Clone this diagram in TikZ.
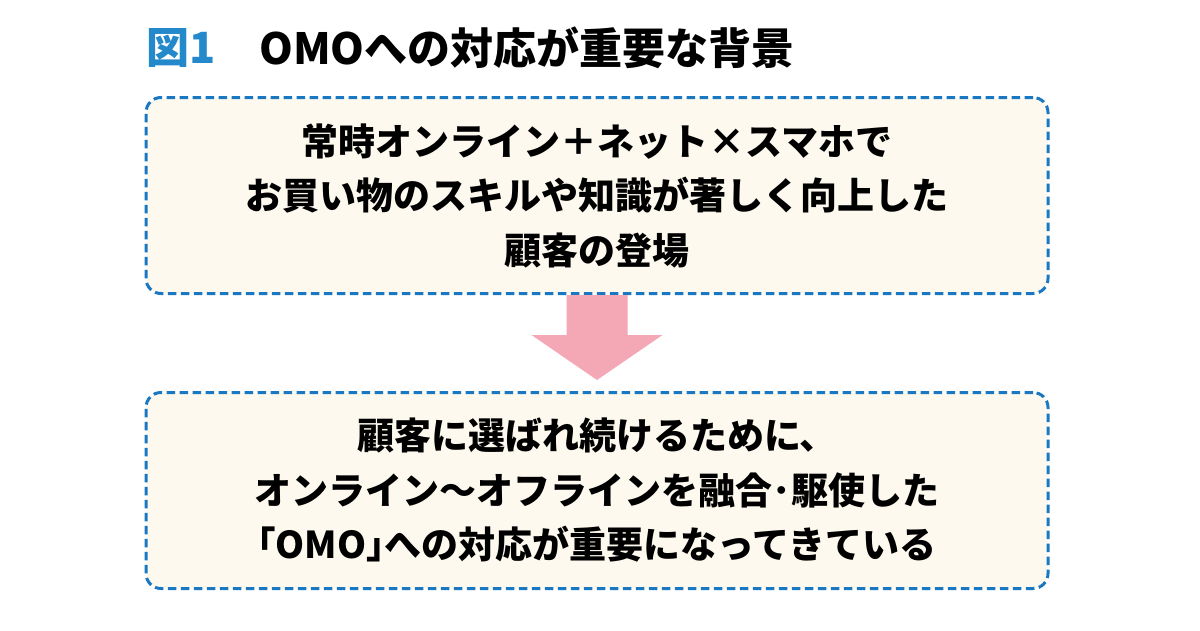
\documentclass[tikz,border=0pt]{standalone}
\usepackage{fontspec}
\setmainfont{Noto Sans CJK JP}
\usetikzlibrary{positioning, calc}
\definecolor{boxblue}{HTML}{1A78C2}
\definecolor{titleblue}{HTML}{2389CB}
\definecolor{boxfill}{HTML}{FDF9EE}
\definecolor{arrowpink}{HTML}{F4A8B5}
\tikzset{
    x = 1pt, y = -1pt,
    every node/.style = {
        inner sep = 0pt,
        font = \bfseries
    },
    titletext/.style = {
        anchor = west,
        font = \bfseries\fontsize{43}{50}\selectfont
    },
    infobox/.style = {
        draw = boxblue,
        fill = boxfill,
        line width = 3pt,
        dash pattern = on 8.5pt off 4.5pt,
        rounded corners = 15pt,
        minimum width = 902pt,
        minimum height = 196pt,
        align = center,
        font = \bfseries\fontsize{37}{54.5}\selectfont
    }
}

\begin{document}
\begin{tikzpicture}
    \useasboundingbox (0,0) rectangle (1200,630);
    % title
    \node[titletext, text=titleblue] (fig) at (146,48) {図1};
    \node[titletext] (title) at (259,48) {OMOへの対応が重要な背景};
    % boxes
    \node[infobox] (before) at (597,195.5) {常時オンライン＋ネット×スマホで\\お買い物のスキルや知識が著しく向上した\\顧客の登場};
    \node[infobox] (after) at (597,490.5) {顧客に選ばれ続けるために、\\オンライン～オフラインを融合･駆使した\\｢OMO｣への対応が重要になってきている};
    % arrow
    \coordinate (tip) at ($(before.south)+(0,85)$);
    \fill[arrowpink] ($(before.south)+(-30.5,0)$) -- ++(0,40) -- ++(-35,0)
        -- (tip) -- ($(before.south)+(65.5,40)$) -- ++(-35,0) -- ++(0,-40) -- cycle;
\end{tikzpicture}
\end{document}
